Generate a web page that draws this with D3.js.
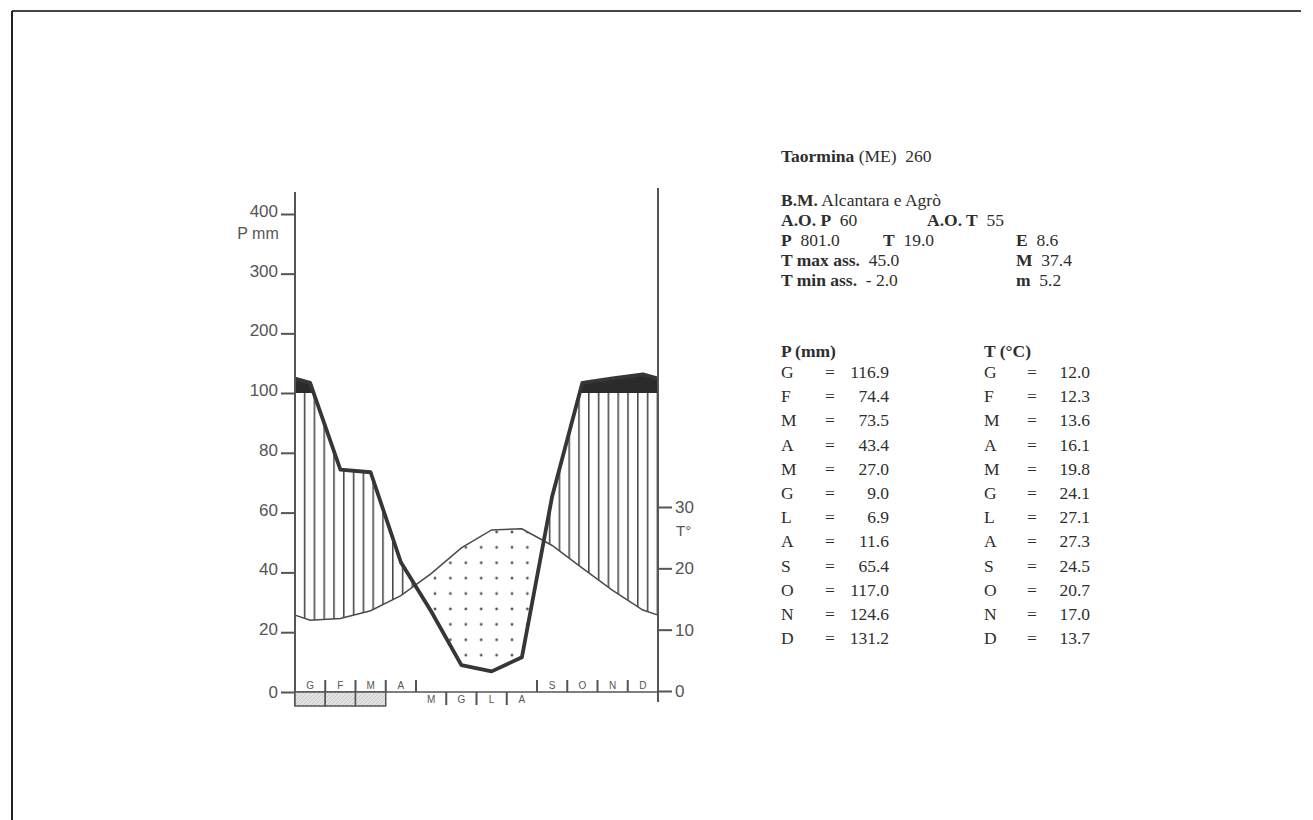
<!DOCTYPE html>
<html>
<head>
<meta charset="utf-8">
<script src="https://cdn.jsdelivr.net/npm/d3@7"></script>
<style>
  body { margin: 0; background: #fff; }
  svg { display: block; }
</style>
</head>
<body>
<div id="chart"></div>
<script>
// Diagramma di Bagnouls-Gaussen, Taormina
const months = ["G", "F", "M", "A", "M", "G", "L", "A", "S", "O", "N", "D"];
const precip = [116.9, 74.4, 73.5, 43.4, 27.0, 9.0, 6.9, 11.6, 65.4, 117.0, 124.6, 131.2];
const temp = [12.0, 12.3, 13.6, 16.1, 19.8, 24.1, 27.1, 27.3, 24.5, 20.7, 17.0, 13.7];
const frost = [1, 1, 1, 0, 0, 0, 0, 0, 0, 0, 0, 0];
const pTicks = [0, 20, 40, 60, 80, 100, 200, 300, 400];
const tTicks = [0, 10, 20, 30];

const stationTitle = ["Taormina", " (ME)  260"];
const infoRows = [
    [["B.M.", " Alcantara e Agrò"]],
    [["A.O. P", "  60"], ["A.O. T", "  55"]],
    [["P", "  801.0"], ["T", "  19.0"], ["E", "  8.6"]],
    [["T max ass.", "  45.0"], ["M", "  37.4"]],
    [["T min ass.", "  - 2.0"], ["m", "  5.2"]]
];
const pHeader = "P (mm)";
const tHeader = "T (°C)";
const pText = ["116.9", "74.4", "73.5", "43.4", "27.0", "9.0", "6.9", "11.6", "65.4", "117.0", "124.6", "131.2"];
const tText = ["12.0", "12.3", "13.6", "16.1", "19.8", "24.1", "27.1", "27.3", "24.5", "20.7", "17.0", "13.7"];

const width = 1313, height = 820;
const ink = "#363636", axisInk = "#555";

const svg = d3.select("#chart").append("svg")
    .attr("width", width)
    .attr("height", height)
    .style("background", "#fff");

// page frame (scan edges)
svg.append("line").attr("x1", 12).attr("x2", 1301).attr("y1", 11).attr("y2", 11)
    .attr("stroke", "#444").attr("stroke-width", 2);
svg.append("line").attr("x1", 12).attr("x2", 12).attr("y1", 11).attr("y2", height)
    .attr("stroke", "#222").attr("stroke-width", 2);

const x = d3.scaleLinear().domain([0, 12]).range([295, 658]);
const yP = d3.scaleLinear().domain([0, 100, 400]).range([692, 393, 214]);
const yT = d3.scaleLinear().domain([0, 30]).range([691, 507]);

// curve points at month centres, closed on the axes with the Dec/Jan mean
const wrapP = (precip[11] + precip[0]) / 2;
const wrapT = (temp[11] + temp[0]) / 2;
const pts = [{ m: 0, p: wrapP, t: wrapT }]
    .concat(months.map((d, i) => ({ m: i + 0.5, p: precip[i], t: temp[i] })))
    .concat([{ m: 12, p: wrapP, t: wrapT }]);

const px = d => x(d.m);
const py = d => yP(d.p);
const ty = d => yP(2 * d.t);   // scala P = 2T

const defs = svg.append("defs");

const hatch = defs.append("pattern")
    .attr("id", "hatch")
    .attr("patternUnits", "userSpaceOnUse")
    .attr("x", 294).attr("y", 0)
    .attr("width", 9.8).attr("height", 20);
hatch.append("line")
    .attr("x1", 0.8).attr("x2", 0.8).attr("y1", 0).attr("y2", 20)
    .attr("stroke", "#3f3f3f").attr("stroke-width", 1.5);

const dots = defs.append("pattern")
    .attr("id", "dots")
    .attr("patternUnits", "userSpaceOnUse")
    .attr("x", 427.3).attr("y", 524.3)
    .attr("width", 15.4).attr("height", 15.4);
dots.append("circle")
    .attr("cx", 7.7).attr("cy", 7.7).attr("r", 1.4)
    .attr("fill", "#555");

const frostPat = defs.append("pattern")
    .attr("id", "frost")
    .attr("patternUnits", "userSpaceOnUse")
    .attr("width", 4).attr("height", 4);
frostPat.append("rect").attr("width", 4).attr("height", 4).attr("fill", "#e2e2e2");
frostPat.append("path").attr("d", "M0,4L4,0").attr("stroke", "#c8c8c8").attr("stroke-width", 0.8);

defs.append("clipPath").attr("id", "aboveT").append("path")
    .attr("d", d3.area().x(px).y0(ty).y1(0)(pts));
defs.append("clipPath").attr("id", "belowT").append("path")
    .attr("d", d3.area().x(px).y0(ty).y1(height)(pts));
defs.append("clipPath").attr("id", "under100").append("rect")
    .attr("x", 0).attr("y", yP(100)).attr("width", width).attr("height", height);
defs.append("clipPath").attr("id", "over100").append("rect")
    .attr("x", 0).attr("y", 0).attr("width", width).attr("height", yP(100));

const between = d3.area().x(px).y0(ty).y1(py);

// periodo umido (righe verticali)
svg.append("g").attr("clip-path", "url(#under100)")
    .append("g").attr("clip-path", "url(#aboveT)")
    .append("path")
    .attr("d", between(pts))
    .attr("fill", "url(#hatch)");

// periodo arido (punti)
svg.append("g").attr("clip-path", "url(#belowT)")
    .append("path")
    .attr("d", between(pts))
    .attr("fill", "url(#dots)");

// P > 100 mm (nero)
svg.append("g").attr("clip-path", "url(#over100)")
    .append("path")
    .attr("d", d3.area().x(px).y0(yP(100)).y1(py)(pts))
    .attr("fill", "#2b2b2b");

svg.append("path")
    .attr("d", d3.line().x(px).y(ty)(pts))
    .attr("fill", "none")
    .attr("stroke", "#4a4a4a")
    .attr("stroke-width", 1.5);

svg.append("path")
    .attr("d", d3.line().x(px).y(py)(pts))
    .attr("fill", "none")
    .attr("stroke", ink)
    .attr("stroke-width", 3.8)
    .attr("stroke-linejoin", "round");

// axes
svg.append("line")
    .attr("x1", x(0)).attr("x2", x(0)).attr("y1", 192).attr("y2", 706)
    .attr("stroke", axisInk).attr("stroke-width", 2);
svg.append("line")
    .attr("x1", x(12)).attr("x2", x(12)).attr("y1", 188).attr("y2", 702)
    .attr("stroke", axisInk).attr("stroke-width", 2);
svg.append("line")
    .attr("x1", x(0)).attr("x2", x(12)).attr("y1", yP(0)).attr("y2", yP(0))
    .attr("stroke", axisInk).attr("stroke-width", 1.5);

const leftAxis = svg.append("g")
    .attr("transform", `translate(${x(0)},0)`)
    .call(d3.axisLeft(yP).tickValues(pTicks).tickSize(14).tickPadding(3));
leftAxis.select(".domain").remove();
leftAxis.selectAll(".tick line").attr("stroke", axisInk).attr("stroke-width", 2);
leftAxis.selectAll(".tick text")
    .attr("fill", "#555")
    .attr("font-family", "Liberation Sans, Arial, sans-serif")
    .attr("font-size", 17)
    .attr("dy", d => d === 0 ? "0.35em" : "0.15em");

svg.append("text")
    .attr("x", 258).attr("y", 239)
    .attr("text-anchor", "middle")
    .attr("fill", "#555")
    .attr("font-family", "Liberation Sans, Arial, sans-serif")
    .attr("font-size", 16)
    .text("P mm");

const rightAxis = svg.append("g")
    .attr("transform", `translate(${x(12)},0)`)
    .call(d3.axisRight(yT).tickValues(tTicks).tickSize(14).tickPadding(3));
rightAxis.select(".domain").remove();
rightAxis.selectAll(".tick line").attr("stroke", axisInk).attr("stroke-width", 2);
rightAxis.selectAll(".tick text")
    .attr("fill", "#555")
    .attr("font-family", "Liberation Sans, Arial, sans-serif")
    .attr("font-size", 17);

svg.append("text")
    .attr("x", 676).attr("y", 536)
    .attr("fill", "#555")
    .attr("font-family", "Liberation Sans, Arial, sans-serif")
    .attr("font-size", 15)
    .text("T°");

// month strip: dry months on the lower row
const dry = months.map((d, i) => precip[i] < 2 * temp[i]);
const base = yP(0);

svg.append("g").selectAll("text")
    .data(months)
    .join("text")
    .attr("x", (d, i) => x(i + 0.5))
    .attr("y", (d, i) => dry[i] ? base + 11 : base - 3)
    .attr("text-anchor", "middle")
    .attr("fill", "#555")
    .attr("font-family", "Liberation Sans, Arial, sans-serif")
    .attr("font-size", 10)
    .text(d => d);

const bounds = d3.range(1, 12);
svg.append("g").selectAll("line")
    .data(bounds)
    .join("line")
    .attr("x1", k => x(k)).attr("x2", k => x(k))
    .attr("y1", k => (dry[k - 1] && dry[k]) ? base : base - 12)
    .attr("y2", k => (dry[k - 1] && dry[k]) ? base + 13 : base)
    .attr("stroke", axisInk)
    .attr("stroke-width", 2);

svg.append("g").selectAll("rect")
    .data(months.map((d, i) => i).filter(i => frost[i]))
    .join("rect")
    .attr("x", i => x(i)).attr("width", i => x(i + 1) - x(i))
    .attr("y", base).attr("height", 14)
    .attr("fill", "url(#frost)")
    .attr("stroke", axisInk)
    .attr("stroke-width", 1.5);

// text panel
const serif = "Liberation Serif, Times New Roman, serif";
const txt = "#2e2e2e";

function richLine(xPos, yPos, parts, size) {
    const t = svg.append("text")
        .attr("x", xPos).attr("y", yPos)
        .attr("font-family", serif)
        .attr("font-size", size)
        .attr("fill", txt)
        .style("white-space", "pre");
    t.append("tspan").attr("font-weight", "bold").text(parts[0]);
    t.append("tspan").text(parts[1]);
}

richLine(781, 162, stationTitle, 17.5);

const rowX = [[781], [781, 927], [781, 883, 1016], [781, 1016], [781, 1016]];
infoRows.forEach((row, r) => {
    row.forEach((parts, c) => richLine(rowX[r][c], 206 + r * 20, parts, 17.5));
});

const tableTop = 357, rowStep = 24.2;
[[pHeader, 781], [tHeader, 984]].forEach(([label, xPos]) => {
    svg.append("text")
        .attr("x", xPos).attr("y", tableTop)
        .attr("font-family", serif).attr("font-size", 17.5)
        .attr("font-weight", "bold").attr("fill", txt)
        .text(label);
});

function tableColumn(xLetter, xEq, xVal, values) {
    const g = svg.append("g")
        .attr("font-family", serif)
        .attr("font-size", 17.5)
        .attr("fill", txt);
    const rows = g.selectAll("g").data(months).join("g")
        .attr("transform", (d, i) => `translate(0,${tableTop + 21 + i * rowStep})`);
    rows.append("text").attr("x", xLetter).text(d => d);
    rows.append("text").attr("x", xEq).attr("text-anchor", "middle").text("=");
    rows.append("text").attr("x", xVal).attr("text-anchor", "end").text((d, i) => values[i]);
}

tableColumn(781, 830, 889, pText);
tableColumn(984, 1032, 1090, tText);
</script>
</body>
</html>
